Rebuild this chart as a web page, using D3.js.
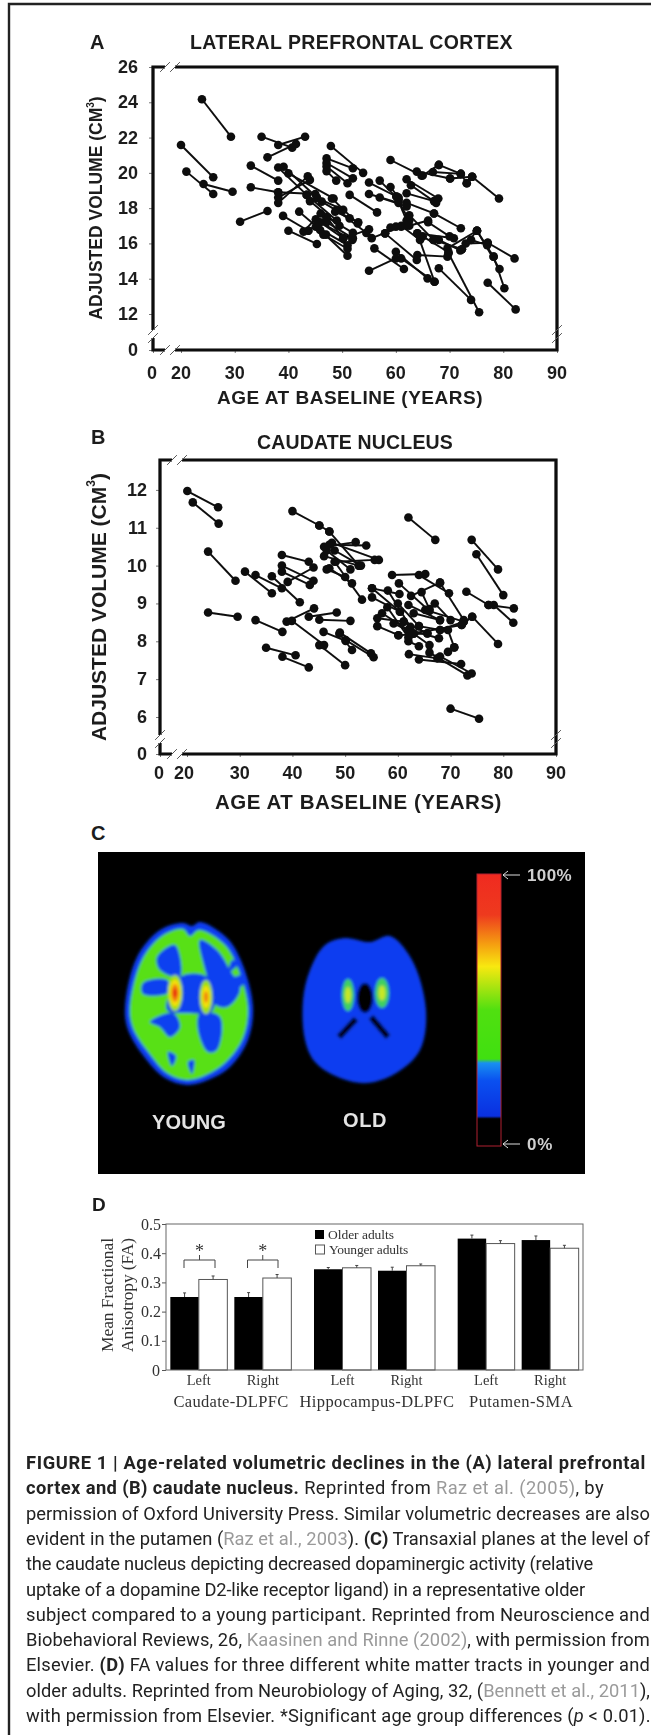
<!DOCTYPE html>
<html><head><meta charset="utf-8">
<script src="https://cdn.jsdelivr.net/npm/d3@7"></script>
<style>html,body{margin:0;padding:0;background:#fff}svg{display:block}text{font-family:"Liberation Sans",Arial,sans-serif}</style>
</head><body><svg id="c" width="651" height="1735"></svg>
<script>
const ticksAX=[0,20,30,40,50,60,70,80,90];
const ticksAY=[0,12,14,16,18,20,22,24,26];
const ticksBY=[0,6,7,8,9,10,11,12];
const segmentsA=[
[23.9,24.17,29.3,22.05],[20,21.58,26,19.75],[21,20.07,26,18.8],[24.2,19.37,29.6,18.93],
[35,22.05,40.7,21.43],[38.1,21.58,43.1,22.05],[36.1,20.88,41.4,21.64],[33,20.41,38.1,19.56],
[33,19.18,38.1,18.9],[38.1,18.3,43.6,19.8],[38.1,20.3,43.4,18.75],[39.1,20.35,45.3,18.6],
[40,19.97,48.4,18.55],[38.1,18.6,44,19.6],[38.1,18.9,45,18.8],[31,17.23,36.1,17.84],
[39,17.56,43.7,16.72],[40,16.72,45.3,15.97],[42.8,16.67,46,17.7],[43.7,16.72,47.1,17.5],
[45.1,17.37,50.2,16.3],[45.9,16.76,51,15.3],[45.1,16.95,51,15.9],[47.1,17.5,52,16.6],
[47.1,17.2,52,16.3],[48.7,17.8,53,17.2],[48.1,18.55,52.9,17.13],[46.2,18.37,51.4,17.42],
[45.3,18.58,50.2,17.9],[43.4,18.75,49,17.3],[47.1,17.5,50.2,16.29],[45.9,17.2,51.9,16.2],
[50.2,16.29,55,16.8],[47.9,21.52,53.9,20],[47.1,20.82,52,20.26],[47.1,20.56,52,19.69],
[47.1,20.36,51,19.41],[47.1,20.1,48.9,19.56],[55,19.45,60.1,18.66],[57,19.56,60.5,18.5],
[59,19.2,60.5,18.6],[62,19.64,67.9,18.55],[62.8,19.3,67.5,18.3],[62,18.84,67.1,18.4],
[59,20.73,64.8,19.84],[63.9,20.07,70.1,19.68],[68,20.45,72.1,19.94],[65,19.85,68,20.45],
[66.9,20.05,72.1,19.94],[70.1,19.68,74.2,19.78],[72.1,19.94,73.2,19.41],[73.2,19.41,74.2,19.78],
[74.2,19.78,79.2,18.55],[51.4,18.75,56.5,17.76],[55,18.8,60.5,18.3],[57,18.6,62,18.1],
[60.1,18.66,62,17.3],[62,18.3,67.1,17.7],[67.1,17.7,72.1,16.86],[60.5,18.4,62.5,17.3],
[62.5,17.6,67,16.2],[64,16.57,70.8,16.29],[62.5,17,66,17.3],[59,16.9,62,17],
[61,17,64.5,16.2],[64,16.57,67.2,13.83],[55,14.45,60,15.15],[56,15.72,61.5,14.55],
[60,15.53,65.9,14.02],[61,15.15,67.2,13.83],[58,16.57,63.9,15.06],[58,16.57,60,16.95],
[55.5,16.3,61,16.95],[64,15.34,69.6,15.25],[67,16.2,72.3,15.67],[65,16.4,69.8,15.5],
[69.6,15.72,75.1,16.72],[72.3,15.67,75.1,16.72],[73,16,77.1,16.04],[77.1,16.04,82.1,15.15],
[75.1,16.72,78.2,15.25],[75.1,16.72,79.3,14.55],[78.2,15.25,80.2,13.46],[77.1,13.77,82.3,12.26],
[68,14.59,74,12.8],[69.8,15.44,75.5,12.1],[74,16.2,77,15.9],[44,18.4,49.5,17],[42,17.8,47,16.5],
[49,17.9,54.5,16.6],[46.5,16.5,51,15.7],[66,17.2,70,16.4],[68,16.2,72,15.6]];
const segmentsB=[
[20.06,11.97,25.9,11.54],[21.1,11.67,26,11.11],[24,10.37,29.2,9.6],[40,11.44,45.1,11.06],
[45.1,11.06,47,10.9],[31,9.84,36.1,9.27],[33,9.75,38,9.4],[36.1,9.72,41.4,9.03],
[38,9.84,43.3,9.49],[38,10.28,43.1,10.1],[38,10,44,9.6],[39.1,9.57,44,9.95],
[24,8.76,29.6,8.65],[33,8.56,38.1,8.25],[35,7.83,40.6,7.63],[38.1,7.59,43.1,7.31],
[38.9,8.52,44.1,8.87],[39.9,8.54,46,7.9],[43.1,8.65,48.4,8.76],[45.1,8.57,51,8.54],
[45.9,8.25,50.1,8.01],[45.1,7.9,50,7.37],[48.9,8.2,51.3,7.77],[49,8.23,54.9,7.68],
[50.1,8.03,55.4,7.58],[58.9,9.75,65.2,9.78],[64,9.75,69.7,9.27],[60.2,9.53,66,8.8],
[62.5,9.2,68,9.55],[68,9.55,72.5,8.56],[64.5,9.3,66,8.85],[55.1,9.4,60.4,8.78],
[55.1,9.16,60.4,8.78],[58.1,9.34,62.4,8.38],[55.1,9.4,60.3,9.25],[73,9.31,77.2,8.96],
[77.2,8.96,82,8.87],[78.2,8.96,81.9,8.49],[74.1,8.65,79,7.93],[74,10.68,79,9.9],
[74.9,10.3,80,9.22],[62,11.27,67.1,10.68],[70,6.22,75.4,5.72],[62.1,7.66,67.5,7.55],
[64,7.52,72,7.4],[66,7.7,73.2,7.1],[68,7.6,74,7.15],[69.5,7.72,70.7,7.84],[62,8,64,7.87],
[69.5,8.3,70.7,7.84],[56.1,8.61,61.1,8.52],[57,8.74,62,8.3],[56.1,8.4,60.1,8.16],
[59.2,8.47,63,8.21],[61.1,8.52,65.6,8.21],[62,8.3,67.8,8.08],[60.1,8.16,65.6,8.21],
[62,8.96,68,8.56],[67,9,70,8.56],[65.2,8.83,72.5,8.52],[63,8.74,68,8.56],[62.4,8.2,72.1,8.43],
[68,8.3,72.5,8.52],[72.1,8.43,74.1,8.65],[46,10.5,52,10.62],[47,10.55,54,10.53],
[47.5,10.6,56.4,10.15],[46,10.25,52.6,10],[48.2,10.1,55.6,10.15],[47,9.93,51.3,9.53],
[48,10.1,53.2,9.1],[46.5,9.9,50,9.7],[47,10.9,52.6,10],[46.5,10.4,51,9.9],[48,10.4,53,10],
[60,9,64,8.4],[63,8.2,66,7.9],[58,8.9,62,8.1],[64,8.4,68,8.3]];
const sides=["Left","Right"];
const tracts=["Caudate-DLPFC","Hippocampus-DLPFC","Putamen-SMA"];
const groups=["Older adults","Younger adults"];
const olderFA=[0.25,0.25,0.345,0.34,0.45,0.445];
const youngerFA=[0.31,0.315,0.35,0.357,0.433,0.417];
const errorFA=[0.014,0.015,0.006,0.012,0.012,0.014];
const youngerErr=[0.012,0.012,0.008,0.006,0.01,0.01];
const ticksD=[0,0.1,0.2,0.3,0.4,0.5];
const colorStops=[[0,"#f02a20"],[0.15,"#ee3a1e"],[0.26,"#f5a010"],[0.34,"#f8e810"],[0.5,"#50e010"],[0.68,"#40e010"],[0.695,"#1890f0"],[0.76,"#0a50f0"],[0.89,"#0a30e0"],[0.9,"#000"],[1,"#000"]];

const svg=d3.select("#c");
const defs=svg.append("defs");
defs.append("filter").attr("id","soft").append("feGaussianBlur").attr("stdDeviation",0.55);
defs.append("filter").attr("id","bl1").append("feGaussianBlur").attr("stdDeviation",1.4);

function fit(t,w){ t.each(function(){const s=d3.select(this);s.attr("letter-spacing",null);
  const l=this.getComputedTextLength();const n=s.text().length;s.attr("letter-spacing",(w-l)/n);});return t;}
function label(g,x,y,txt,size,opt={}){
  const t=g.append("text").attr("x",x).attr("y",y).attr("font-size",size).attr("dominant-baseline","central")
   .attr("font-weight",opt.w||"bold").attr("fill",opt.c||"#1c1c1c").attr("text-anchor",opt.a||"start").text(txt);
  if(opt.f)t.style("font-family",opt.f);
  if(opt.len)fit(t,opt.len);
  return t;}

// outer frame
svg.append("path").attr("d","M9,1735V4H651").attr("fill","none").attr("stroke","#222").attr("stroke-width",2.4);

function slash(g,x,y,len=7){g.append("path").attr("d",`M${x-len*0.7},${y+len*0.7}L${x+len*0.7},${y-len*0.7}`).attr("stroke","#555").attr("stroke-width",1).attr("fill","none");}

function scatter(cfg){
  const g=svg.append("g").attr("filter","url(#soft)");
  const x=d3.scaleLinear().domain([0,20,90]).range(cfg.xr);
  const y=d3.scaleLinear().domain(cfg.yd).range(cfg.yr);
  const xa=g.append("g").attr("transform",`translate(0,${y(0)})`).call(d3.axisBottom(x).tickValues(cfg.tx).tickSize(3).tickFormat(""));
  const ya=g.append("g").attr("transform",`translate(${x(0)},0)`).call(d3.axisLeft(y).tickValues(cfg.ty).tickSize(4).tickFormat(""));
  xa.select(".domain").remove();ya.select(".domain").remove();
  xa.selectAll("line").attr("stroke","#777");ya.selectAll("line").attr("stroke","#777");
  const top=cfg.yr[cfg.yr.length-1], L=x(0), R=x(90), B=y(0);
  const frame=(d)=>g.append("path").attr("d",d).attr("fill","none").attr("stroke","#0a0a0a").attr("stroke-width",3.2);
  frame(`M${L},${cfg.yb1}V${top}H${cfg.xb1}`);
  frame(`M${cfg.xb2},${top}H${R}V${B}H${cfg.xb2}`);
  frame(`M${cfg.xb1},${B}H${L}V${cfg.yb2}`);
  [cfg.xb1,cfg.xb2].forEach(v=>{slash(g,v,top);slash(g,v,B);});
  [cfg.yb1,cfg.yb2].forEach(v=>slash(g,L,v));
  [cfg.yb1,cfg.yb2].forEach(v=>slash(g,R,v));
  const lines=g.append("g");
  lines.selectAll("line").data(cfg.seg).join("line").attr("x1",d=>x(d[0])).attr("y1",d=>y(d[1])).attr("x2",d=>x(d[2])).attr("y2",d=>y(d[3])).attr("stroke","#0a0a0a").attr("stroke-width",1.9);
  const pts=cfg.seg.flatMap(d=>[[d[0],d[1]],[d[2],d[3]]]);
  g.append("g").selectAll("circle").data(pts).join("circle").attr("cx",d=>x(d[0])).attr("cy",d=>y(d[1])).attr("r",4.3).attr("fill","#0a0a0a");
  const tg=svg.append("g").attr("filter","url(#soft)");
  cfg.ty.forEach(v=>label(tg,cfg.lyx,y(v),String(v),cfg.fs,{a:"end"}));
  cfg.tx.forEach(v=>label(tg,x(v)+(v==0?-1:(v==20?cfg.d20:0)),cfg.lxy,String(v),cfg.fs,{a:"middle"}));
  label(tg,cfg.tx0,cfg.ty0,cfg.title,cfg.tfs,{len:cfg.tlen});
  label(tg,cfg.ax0,cfg.ay0,"AGE AT BASELINE (YEARS)",cfg.afs,{len:cfg.alen});
  const yl=tg.append("text").attr("transform",`translate(${cfg.yx},${cfg.yc}) rotate(-90)`).attr("text-anchor","middle").attr("dominant-baseline","central").attr("font-size",cfg.yfs).attr("font-weight","bold").attr("fill","#1c1c1c");
  yl.append("tspan").text("ADJUSTED VOLUME (CM");
  yl.append("tspan").attr("font-size",cfg.yfs*0.58).attr("dy",-cfg.yfs*0.35).text("3");
  yl.append("tspan").attr("dy",cfg.yfs*0.35).text(")");
  label(tg,cfg.lx,cfg.ly,cfg.letter,20);
}
scatter({seg:segmentsA,xr:[153,181,557],yd:[0,12,26],yr:[350,314,67],tx:ticksAX,ty:ticksAY,
 xb1:165,xb2:175,yb1:330,yb2:338,lyx:138,lxy:373,fs:18,d20:0,title:"LATERAL PREFRONTAL CORTEX",tx0:190,ty0:42,tlen:323,tfs:19.5,
 ax0:217,ay0:397,alen:266,afs:19,yx:96,yc:208,yfs:17.5,letter:"A",lx:90,ly:42});
scatter({seg:segmentsB,xr:[160,187,556],yd:[0,6,12.79],yr:[754,717,460],tx:ticksAX,ty:ticksBY,
 xb1:172,xb2:182,yb1:735,yb2:743,lyx:147,lxy:773,fs:18,d20:-3,title:"CAUDATE NUCLEUS",tx0:257,ty0:442,tlen:196,tfs:19.5,
 ax0:215,ay0:801,alen:287,afs:20.5,yx:98,yc:607,yfs:21,letter:"B",lx:91,ly:437});

// Panel C
const gc=svg.append("g");
label(gc,91,833,"C",20,{});
gc.append("rect").attr("x",98).attr("y",852).attr("width",487).attr("height",322).attr("fill","#000");
const smooth=d3.line().curve(d3.curveCatmullRomClosed);
const yg=gc.append("g").attr("filter","url(#bl1)");
yg.append("path").attr("d",smooth([[183,923],[192,926],[200,922],[227,938],[242,963],[253,1007],[248,1040],[230,1067],[208,1080],[187,1085],[165,1078],[145,1058],[128,1030],[125,1007],[137,957],[160,930]])).attr("fill","#0a3cf0");
yg.append("path").attr("d",smooth([[183,929],[190,936],[199,930],[224,944],[237,966],[248,1007],[243,1038],[226,1062],[206,1075],[187,1080],[167,1073],[149,1053],[133,1028],[130,1007],[142,960],[162,936]])).attr("fill","#58e014");
[[[157,957],[175,945],[180,977],[160,970]],
 [[143,983],[167,980],[170,992],[143,994]],
 [[200,940],[217,950],[230,970],[240,990],[227,1007],[213,1003],[207,977]],
 [[180,977],[207,977],[213,1010],[187,1013],[167,1010]],
 [[150,1022],[173,1013],[180,1027],[170,1037],[160,1027]],
 [[200,1013],[220,1017],[217,1050],[208,1052],[198,1030]],
 [[222,985],[244,975],[245,982],[226,995]],
 [[168,1052],[176,1056],[172,1066]],[[188,1062],[194,1060],[192,1074]],[[232,960],[238,964],[229,972]]
].forEach(p=>yg.append("path").attr("d",smooth(p)).attr("fill","#0a40f0"));
const caud=(g,cx,cy,rx,ry,cols)=>cols.forEach((c,i)=>g.append("ellipse").attr("cx",cx).attr("cy",cy).attr("rx",rx*(1-i/cols.length)).attr("ry",ry*(1-i/cols.length)).attr("fill",c));
caud(yg,175,993,7.5,18,["#9be010","#f5e010","#f08010","#e82010"]);
caud(yg,206,997,6.5,17,["#9be010","#f5e010","#f08010"]);
const og=gc.append("g").attr("filter","url(#bl1)");
og.append("path").attr("d",smooth([[303,1000],[310,970],[325,945],[345,938],[370,942],[390,936],[412,960],[426,1010],[420,1050],[398,1072],[368,1083],[340,1078],[315,1062],[305,1040]])).attr("fill","#0a3cf0");
caud(og,348,995,6,16,["#40d060","#c8e820"]);
caud(og,382,993,7,15,["#40d060","#c8e820"]);
og.append("ellipse").attr("cx",365).attr("cy",998).attr("rx",8).attr("ry",15).attr("fill","#000");
og.append("path").attr("d","M356,1019L339,1037").attr("stroke","#000").attr("stroke-width",6);
og.append("path").attr("d","M371,1017L388,1037").attr("stroke","#000").attr("stroke-width",6);
const lg=defs.append("linearGradient").attr("id","cb").attr("x1",0).attr("x2",0).attr("y1",0).attr("y2",1);
colorStops.forEach(s=>lg.append("stop").attr("offset",s[0]).attr("stop-color",s[1]));
gc.append("rect").attr("x",477).attr("y",874).attr("width",24).attr("height",272).attr("fill","url(#cb)").attr("stroke","#b02030").attr("stroke-width",1);
const lt=svg.append("g").attr("filter","url(#soft)");
label(lt,152,1122,"YOUNG",20,{c:"#e4e4e4",len:74});
label(lt,343,1120,"OLD",20,{c:"#e4e4e4",len:44});
label(lt,527,875,"100%",17,{c:"#cfcfcf",len:45});
label(lt,527,1144,"0%",17,{c:"#cfcfcf",len:26});
[875,1144].forEach(v=>lt.append("path").attr("d",`M520,${v}H503M508,${v-4}L503,${v}L508,${v+4}`).attr("fill","none").attr("stroke","#ddd").attr("stroke-width",1));

// Panel D
const gd=svg.append("g").attr("filter","url(#soft)");
label(gd,92,1204,"D",19);
const yD=d3.scaleLinear().domain([0,0.5]).range([1370,1224]);
const tract=d3.scaleBand().domain(tracts).range([159,590]);
const side=d3.scaleBand().domain(sides).range([0,128]);
const bar=d3.scaleBand().domain(groups).range([0,57]);
const rows=tracts.flatMap((t,i)=>sides.map((s,j)=>({t,s,i:i*2+j})));
const px=(r)=>tract(r.t)+(tract.bandwidth()-128)/2+side(r.s)+3.5;
const ax=gd.append("g").attr("transform","translate(166,0)").call(d3.axisLeft(yD).tickValues(ticksD).tickSize(4).tickFormat(""));
ax.select(".domain").remove();ax.selectAll("line").attr("stroke","#555");
ticksD.forEach(v=>label(gd,v==0?160:161,yD(v),String(v),16,{w:"normal",a:"end",f:"Liberation Serif",c:"#333"}));
gd.selectAll("rect.o").data(rows).join("rect").attr("class","o").attr("x",r=>px(r)+bar(groups[0])).attr("y",r=>yD(olderFA[r.i])).attr("width",bar.bandwidth()).attr("height",r=>yD(0)-yD(olderFA[r.i])).attr("fill","#000");
gd.selectAll("rect.y").data(rows).join("rect").attr("class","y").attr("x",r=>px(r)+bar(groups[1])).attr("y",r=>yD(youngerFA[r.i])).attr("width",bar.bandwidth()).attr("height",r=>yD(0)-yD(youngerFA[r.i])).attr("fill","#fff").attr("stroke","#555").attr("stroke-width",1);
const errs=rows.flatMap(r=>[{x:px(r)+bar(groups[0])+bar.bandwidth()/2,v:olderFA[r.i],e:errorFA[r.i]},{x:px(r)+bar(groups[1])+bar.bandwidth()/2,v:youngerFA[r.i],e:youngerErr[r.i]}]);
gd.selectAll("path.e").data(errs).join("path").attr("class","e").attr("d",d=>`M${d.x},${yD(d.v)}V${yD(d.v+d.e)}M${d.x-1.5},${yD(d.v+d.e)}H${d.x+1.5}`).attr("stroke","#444").attr("fill","none");
gd.append("rect").attr("x",166).attr("y",1224).attr("width",417).attr("height",146).attr("fill","none").attr("stroke","#666");
rows.forEach(r=>label(gd,px(r)+28.5,1380,r.s,14.5,{w:"normal",a:"middle",f:"Liberation Serif",c:"#333"}));
const tc=[231,377,521],tl=[115,155,104];
tracts.forEach((t,i)=>label(gd,tc[i]-tl[i]/2,1401,t,16.5,{w:"normal",f:"Liberation Serif",c:"#333",len:tl[i]}));
[[107,"Mean Fractional"],[127,"Anisotropy (FA)"]].forEach(([xx,s])=>{
 const t=gd.append("text").attr("transform",`translate(${xx},1295) rotate(-90)`).attr("text-anchor","middle").attr("dominant-baseline","central").attr("font-size",17.5).attr("fill","#333").style("font-family","Liberation Serif").text(s);
 fit(t,114);});
gd.append("rect").attr("x",315).attr("y",1230).attr("width",9).attr("height",9).attr("fill","#000");
gd.append("rect").attr("x",315.5).attr("y",1245).attr("width",9).attr("height",9).attr("fill","#fff").attr("stroke","#555");
label(gd,328,1234,groups[0],13.5,{w:"normal",f:"Liberation Serif",c:"#333",len:66});
label(gd,329,1249,groups[1],13.5,{w:"normal",f:"Liberation Serif",c:"#333",len:79});
[[184,215],[247.5,278]].forEach(([a,b])=>{const m=(a+b)/2;
 gd.append("path").attr("d",`M${a},1268V1260H${b}V1268M${m},1260V1255`).attr("fill","none").attr("stroke","#444");
 label(gd,m,1251,"*",18,{w:"normal",a:"middle",f:"Liberation Serif",c:"#333"});});

// caption
const caption=[
 {w:620,p:[["FIGURE 1 | Age-related volumetric declines in the (A) lateral prefrontal",1]]},
 {w:578,p:[["cortex and (B) caudate nucleus.",1],[" Reprinted from ",0],["Raz et al. (2005)",2],[", by",0]]},
 {w:624,p:[["permission of Oxford University Press. Similar volumetric decreases are also",0]]},
 {w:624,p:[["evident in the putamen (",0],["Raz et al., 2003",2],["). ",0],["(C)",1],[" Transaxial planes at the level of",0]]},
 {w:567,p:[["the caudate nucleus depicting decreased dopaminergic activity (relative",0]]},
 {w:559,p:[["uptake of a dopamine D2-like receptor ligand) in a representative older",0]]},
 {w:624,p:[["subject compared to a young participant. Reprinted from Neuroscience and",0]]},
 {w:624,p:[["Biobehavioral Reviews, 26, ",0],["Kaasinen and Rinne (2002)",2],[", with permission from",0]]},
 {w:624,p:[["Elsevier. ",0],["(D)",1],[" FA values for three different white matter tracts in younger and",0]]},
 {w:624,p:[["older adults. Reprinted from Neurobiology of Aging, 32, (",0],["Bennett et al., 2011",2],["),",0]]},
 {w:624,p:[["with permission from Elsevier. *Significant age group differences (",0],["p",3],[" < 0.01).",0]]}
];
const cap=svg.append("g").attr("filter","url(#soft)");
caption.forEach((ln,i)=>{
 const t=cap.append("text").attr("x",26).attr("y",1469+i*25.3).attr("font-size",18.3).style("font-family","Roboto").attr("font-weight",400).attr("fill","#222");
 ln.p.forEach(([s,k])=>{const ts=t.append("tspan").text(s);
  if(k==1)ts.attr("font-weight",700);
  if(k==2)ts.attr("fill","#9a9a9a");
  if(k==3)ts.attr("font-style","italic");});
 const len=t.node().getComputedTextLength();
 t.attr("letter-spacing",(ln.w-len)/t.text().length);
});
</script></body></html>
